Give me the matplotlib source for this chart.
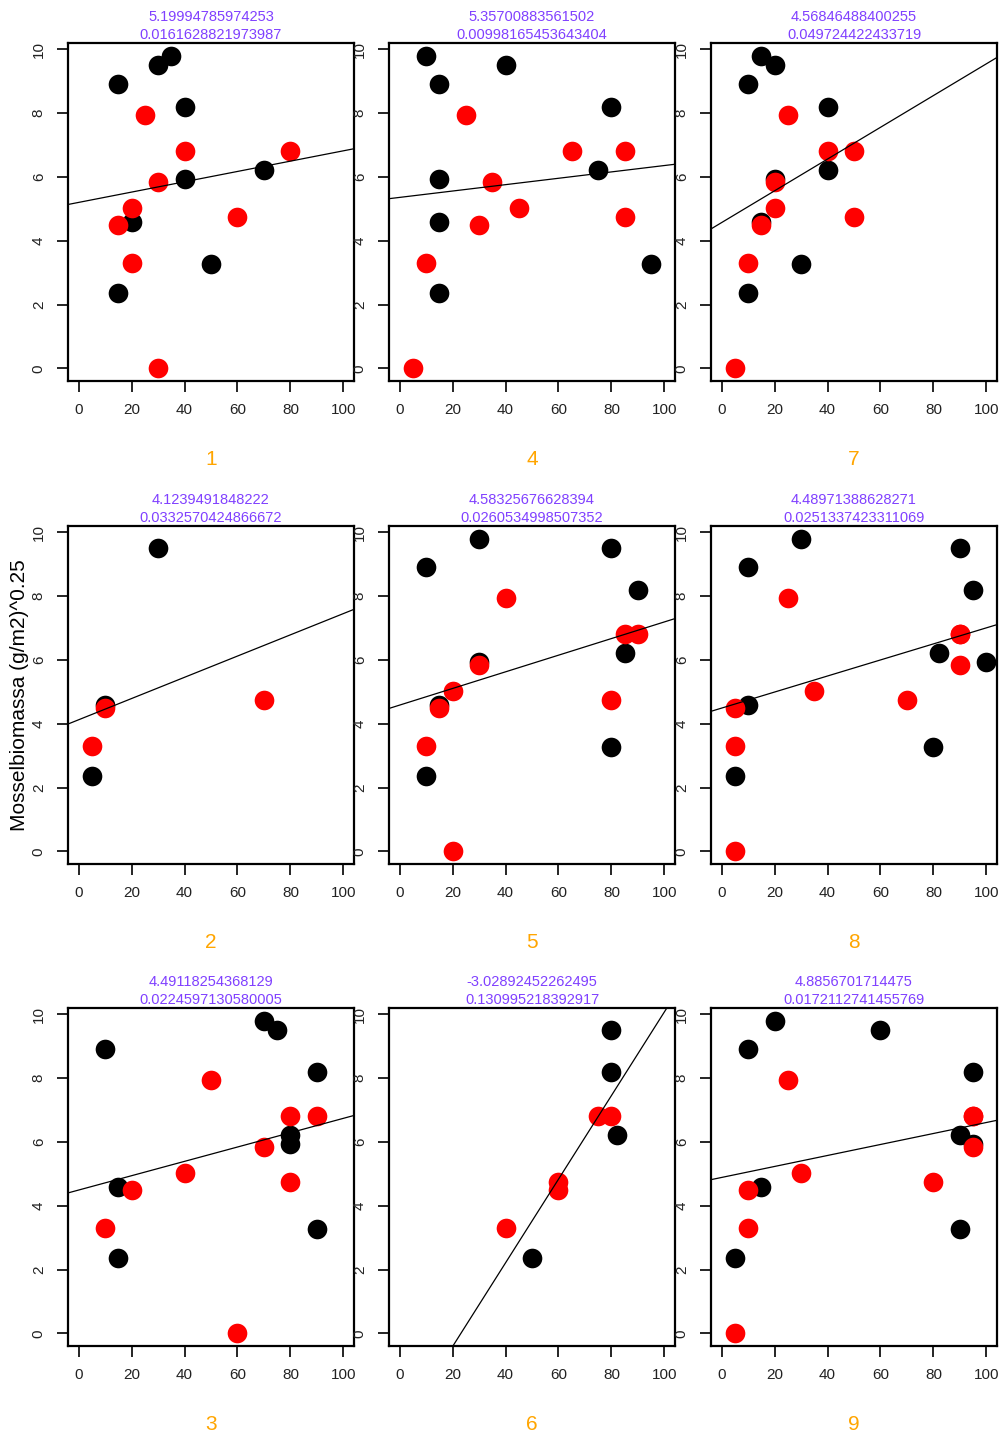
import numpy as np
import matplotlib
matplotlib.use('Agg')
import matplotlib.pyplot as plt

plt.rcParams['font.family'] = ['Liberation Sans', 'DejaVu Sans']

# y values are the same in every panel
black_y = [9.8, 9.5, 8.9, 8.2, 6.2, 5.93, 4.6, 3.27, 2.37]
red_y = [7.93, 6.8, 6.8, 5.83, 5.02, 4.73, 4.48, 3.3, 0.0]

# x values per panel (None = point missing)
black_x = {
    1: [35, 30, 15, 40, 70, 40, 20, 50, 15],
    4: [10, 40, 15, 80, 75, 15, 15, 95, 15],
    7: [15, 20, 10, 40, 40, 20, 15, 30, 10],
    2: [None, 30, None, None, None, None, 10, None, 5],
    5: [30, 80, 10, 90, 85, 30, 15, 80, 10],
    8: [30, 90, 10, 95, 82, 100, 10, 80, 5],
    3: [70, 75, 10, 90, 80, 80, 15, 90, 15],
    6: [None, 80, None, 80, 82, None, None, None, 50],
    9: [20, 60, 10, 95, 90, 95, 15, 90, 5],
}
red_x = {
    1: [25, 40, 80, 30, 20, 60, 15, 20, 30],
    4: [25, 65, 85, 35, 45, 85, 30, 10, 5],
    7: [25, 40, 50, 20, 20, 50, 15, 10, 5],
    2: [None, None, None, None, None, 70, 10, 5, None],
    5: [40, 85, 90, 30, 20, 80, 15, 10, 20],
    8: [25, 90, 90, 90, 35, 70, 5, 5, 5],
    3: [50, 80, 90, 70, 40, 80, 20, 10, 60],
    6: [None, 75, 80, None, None, 60, 60, 40, None],
    9: [25, 95, 95, 95, 30, 80, 10, 10, 5],
}

# panel order in the grid (row-major)
panels = [1, 4, 7, 2, 5, 8, 3, 6, 9]
intercepts = {
    1: '5.19994785974253', 4: '5.35700883561502', 7: '4.56846488400255',
    2: '4.1239491848222', 5: '4.58325676628394', 8: '4.48971388628271',
    3: '4.49118254368129', 6: '-3.02892452262495', 9: '4.8856701714475',
}
slopes = {
    1: '0.0161628821973987', 4: '0.00998165453643404', 7: '0.049724422433719',
    2: '0.0332570424866672', 5: '0.0260534998507352', 8: '0.0251337423311069',
    3: '0.0224597130580005', 6: '0.130995218392917', 9: '0.0172112741455769',
}

PURPLE = '#8040FF'
ORANGE = '#FFA500'
TXT = '#222222'

W, H = 1000, 1434
fig = plt.figure(figsize=(W / 100, H / 100), dpi=100)

lefts = [68, 389, 711]
tops = [43, 526, 1008]
aw, ah = 286, 338

for i, p in enumerate(panels):
    r, c = divmod(i, 3)
    ax = fig.add_axes([lefts[c] / W, 1 - (tops[r] + ah) / H, aw / W, ah / H])

    bx = [x for x in black_x[p] if x is not None]
    by = [y for x, y in zip(black_x[p], black_y) if x is not None]
    rx = [x for x in red_x[p] if x is not None]
    ry = [y for x, y in zip(red_x[p], red_y) if x is not None]
    ax.scatter(bx, by, s=200, color='black', linewidths=0, zorder=3)
    ax.scatter(rx, ry, s=200, color='red', linewidths=0, zorder=4)

    # regression line from the printed coefficients
    a, b = float(intercepts[p]), float(slopes[p])
    ax.axline((0, a), slope=b, color='black', lw=0.9, zorder=5)

    ax.set_xlim(-4, 104)
    ax.set_ylim(-0.392, 10.192)
    ax.set_xticks(np.arange(0, 101, 20))
    ax.set_yticks(np.arange(0, 11, 2))
    ax.tick_params(direction='out', length=8, width=1.2, colors='black',
                   labelcolor=TXT, labelsize=11, pad=8)
    for lab in ax.get_yticklabels():
        lab.set_rotation(90)
        lab.set_va('center')
    for sp in ax.spines.values():
        sp.set_linewidth(1.6)

    ax.text(0.5, 1.078, intercepts[p], transform=ax.transAxes, ha='center',
            va='center', color=PURPLE, fontsize=10.5)
    ax.text(0.5, 1.024, slopes[p], transform=ax.transAxes, ha='center',
            va='center', color=PURPLE, fontsize=10.5)
    ax.text(0.5, -0.233, str(p), transform=ax.transAxes, ha='center',
            va='center', color=ORANGE, fontsize=15)

fig.text(20 / W, 1 - 695 / H, 'Mosselbiomassa (g/m2)^0.25', rotation=90,
         ha='center', va='center', fontsize=15, color='black')

fig.savefig('out.png', dpi=100)
